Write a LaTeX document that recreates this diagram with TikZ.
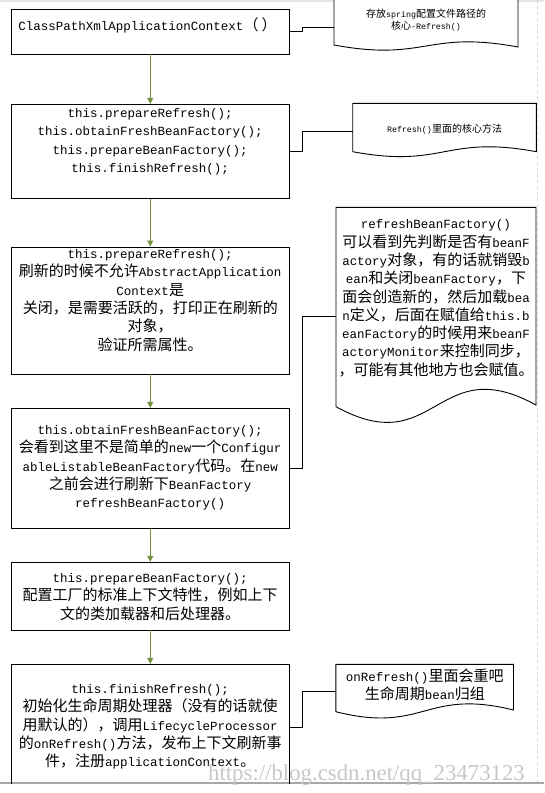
\documentclass[tikz,border=0pt]{standalone}
\usepackage{fontspec}
\setmainfont{Liberation Mono}
\newfontfamily\enfont{Liberation Mono}[Scale=0.8333]
\newfontfamily\zhfont{Noto Sans CJK SC}
\newfontfamily\wmfont{Liberation Serif}
\usetikzlibrary{arrows.meta}
\XeTeXinterchartokenstate=1
\newXeTeXintercharclass\zhclass
\makeatletter
\count@="3000
\loop\XeTeXcharclass\count@=\zhclass\advance\count@ 1 \ifnum\count@<"3040 \repeat
\count@="4E00
\loop\XeTeXcharclass\count@=\zhclass\advance\count@ 1 \ifnum\count@<"A000 \repeat
\count@="FF00
\loop\XeTeXcharclass\count@=\zhclass\advance\count@ 1 \ifnum\count@<"FFF0 \repeat
\makeatother
\XeTeXinterchartoks 0 \zhclass = {\zhfont}
\XeTeXinterchartoks 4095 \zhclass = {\zhfont}
\XeTeXinterchartoks \zhclass 0 = {\enfont}
\XeTeXinterchartoks \zhclass 4095 = {\enfont}
\definecolor{olivearrow}{RGB}{118,146,60}
\definecolor{wmgray}{RGB}{200,200,200}
\definecolor{edgegray}{RGB}{168,168,168}
\definecolor{topgray}{RGB}{230,230,230}
\definecolor{pagegray}{RGB}{214,214,214}
\begin{document}
\begin{tikzpicture}[x=1pt,y=-1pt,
  box/.style={draw=black,line width=0.9pt,minimum width=277.5pt,inner sep=0pt},
  txt/.style={align=center,inner sep=0pt,font=\fontsize{15}{18.3}\selectfont\enfont},
  smalltxt/.style={align=center,inner sep=0pt,font=\fontsize{10}{12}\selectfont\enfont},
  arr/.style={draw=olivearrow,line width=1.3pt,-{Triangle[length=6pt,width=6pt]}},
  conn/.style={draw=black,line width=0.9pt},
  doc/.style={draw=black,line width=0.9pt,fill=white}]
\useasboundingbox (0,0) rectangle (544,793);
\fill[white] (0,0) rectangle (544,793);
% page frame
\fill[topgray] (0,0) rectangle (544,2);
\draw[pagegray,line width=0.8pt,dash pattern=on 3pt off 3pt] (537,0) -- (537,783);
\draw[edgegray,line width=1.6pt] (0,783) -- (544,783);

% main boxes
\node[box,minimum height=44.7pt] (b1) at (150.25,31.65) {};
\node[box,minimum height=94pt] (b2) at (150.25,151.3) {};
\node[box,minimum height=127pt] (b3) at (150.25,310.5) {};
\node[box,minimum height=120pt] (b4) at (150.25,468.3) {};
\node[box,minimum height=67.7pt] (b5) at (150.25,596.15) {};
\begin{scope}
\clip (0,0) rectangle (544,783);
\node[box,minimum height=126pt] (b6) at (150.25,727.3) {};
\end{scope}

% box texts
\node[txt] (t1) at (147.5,25) {ClassPathXmlApplicationContext（\hspace{3pt}）};
\node[txt] (t2) at (150.25,141.65) {this.prepareRefresh();\\this.obtainFreshBeanFactory();\\this.prepareBeanFactory();\\this.finishRefresh();};
\node[txt] (t3) at (150.25,300.5) {this.prepareRefresh();\\刷新的时候不允许AbstractApplication\\Context是\\关闭，是需要活跃的，打印正在刷新的\\对象，\\验证所需属性。};
\node[txt] (t4) at (150.25,468) {this.obtainFreshBeanFactory();\\会看到这里不是简单的new一个Configur\\ableListableBeanFactory代码。在new\\之前会进行刷新下BeanFactory\\refreshBeanFactory()};
\node[txt] (t5) at (150.25,596.85) {this.prepareBeanFactory();\\配置工厂的标准上下文特性，例如上下\\文的类加载器和后处理器。};
\node[txt] (t6) at (150.25,727) {this.finishRefresh();\\初始化生命周期处理器（没有的话就使\\用默认的），调用LifecycleProcessor\\的onRefresh()方法，发布上下文刷新事\\件，注册applicationContext。};

% arrows
\draw[arr] (b1.south) -- (b2.north);
\draw[arr] (b2.south) -- (b3.north);
\draw[arr] (b3.south) -- (b4.north);
\draw[arr] (b4.south) -- (b5.north);
\draw[arr] (b5.south) -- (b6.north);

% note shapes
\draw[doc] (334,-2) -- (334,45) .. controls (426,62) and (426,30) .. (518,47) -- (518,-2);
\draw[doc] (352.7,103.3) -- (352.7,151.7) .. controls (444.5,168.7) and (444.5,134.7) .. (536.4,151.7) -- (536.4,103.3) -- cycle;
\draw[doc] (336,207.3) -- (336,406.7) .. controls (436,461.7) and (436,350) .. (536,405) -- (536,207.3) -- cycle;
\draw[doc] (335.8,664.3) -- (335.8,711.7) .. controls (424.7,734) and (424.7,688) .. (513.5,710) -- (513.5,664.3) -- cycle;

% note texts
\node[smalltxt] (n1) at (426,20) {存放spring配置文件路径的\\核心-Refresh()};
\node[smalltxt] (n2) at (444.5,129.3) {Refresh()里面的核心方法};
\node[txt] (n3) at (436,298.35) {refreshBeanFactory()\\可以看到先判断是否有beanF\\actory对象，有的话就销毁b\\ean和关闭beanFactory，下\\面会创造新的，然后加载bea\\n定义，后面在赋值给this.b\\eanFactory的时候用来beanF\\actoryMonitor来控制同步，\\，可能有其他地方也会赋值。};
\node[txt] (n4) at (424.75,684.65) {onRefresh()里面会重吧\\生命周期bean归组};

% attachment points on notes
\coordinate (c1) at (334,27.5);
\coordinate (c2) at (352.7,131.7);
\coordinate (c3) at (336,316);
\coordinate (c4) at (335.8,691);

% connectors
\draw[conn] (b1.east) -- ++(13.3,0) |- (c1);
\draw[conn] (b2.east) -- ++(13.3,0) |- (c2);
\draw[conn] (b4.east) -- ++(13.3,0) |- (c3);
\draw[conn] (b6.east) -- ++(13.3,0) |- (c4);

% watermark
\node[font=\fontsize{22.8}{24}\selectfont\wmfont,text=wmgray,anchor=base,inner sep=0pt] (wm) at (366.5,780) {https://blog.csdn.net/qq\_23473123};
\end{tikzpicture}
\end{document}
